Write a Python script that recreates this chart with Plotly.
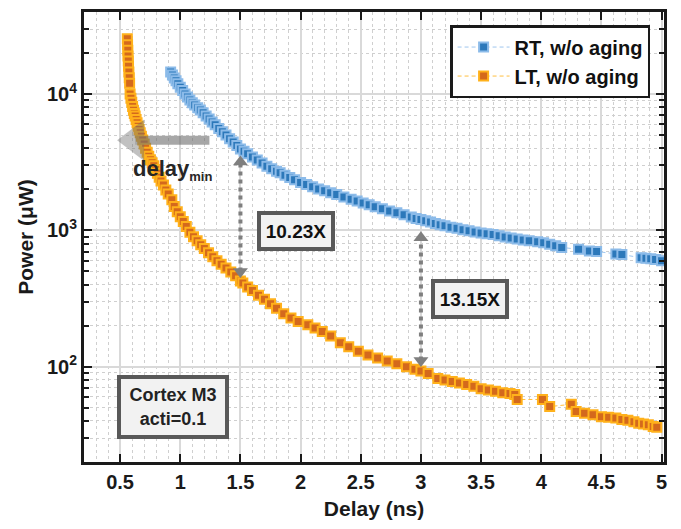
import numpy as np
import plotly.graph_objects as go

# ---------------- data ----------------
rt_delay = [0.920, 0.935, 0.950, 0.965, 0.980, 1.000, 1.020, 1.040, 1.060, 1.080,
            1.100, 1.120, 1.145, 1.167, 1.190, 1.215, 1.240, 1.265, 1.290, 1.320,
            1.350, 1.380, 1.410, 1.440, 1.470, 1.500, 1.530, 1.560, 1.600, 1.640,
            1.680, 1.720, 1.760, 1.800, 1.830, 1.870, 1.910, 1.950, 2.000, 2.050,
            2.100, 2.150, 2.200, 2.250, 2.300, 2.360, 2.420, 2.470, 2.520, 2.570,
            2.620, 2.680, 2.740, 2.800, 2.860, 2.920, 2.960, 3.000, 3.040, 3.080,
            3.120, 3.160, 3.200, 3.250, 3.300, 3.350, 3.400, 3.450, 3.500, 3.550,
            3.600, 3.650, 3.700, 3.750, 3.800, 3.850, 3.900, 3.970, 4.020, 4.070,
            4.120, 4.170, 4.310, 4.400, 4.460, 4.620, 4.670, 4.830, 4.870, 4.910,
            4.950, 5.000]
rt_power = [14500, 13800, 13100, 12500, 11900, 11200, 10600, 10000, 9500, 9050,
            8650, 8300, 7950, 7640, 7300, 6900, 6550, 6250, 5950, 5600,
            5300, 5000, 4700, 4450, 4200, 3950, 3800, 3650, 3460, 3280,
            3120, 2960, 2830, 2720, 2650, 2540, 2440, 2350, 2250, 2170,
            2090, 2010, 1950, 1890, 1830, 1760, 1690, 1640, 1590, 1540,
            1490, 1440, 1390, 1345, 1300, 1255, 1225, 1200, 1175, 1150,
            1125, 1100, 1080, 1055, 1035, 1012, 992, 975, 958, 945,
            932, 912, 895, 878, 864, 851, 840, 825, 810, 790,
            770, 750, 727, 705, 700, 672, 665, 630, 625, 620,
            612, 600]

lt_delay = [0.560, 0.562, 0.564, 0.566, 0.568, 0.570, 0.573, 0.576, 0.579, 0.583,
            0.590, 0.597, 0.604, 0.611, 0.618, 0.625, 0.633, 0.641, 0.650, 0.658,
            0.667, 0.677, 0.688, 0.700, 0.712, 0.725, 0.738, 0.752, 0.766, 0.780,
            0.795, 0.810, 0.825, 0.840, 0.860, 0.880, 0.900, 0.930, 0.950, 0.975,
            1.000, 1.025, 1.050, 1.080, 1.110, 1.140, 1.170, 1.200, 1.235, 1.270,
            1.305, 1.340, 1.380, 1.420, 1.460, 1.500, 1.520, 1.560, 1.600, 1.650,
            1.700, 1.750, 1.800, 1.860, 1.920, 1.980, 2.060, 2.120, 2.180, 2.250,
            2.330, 2.400, 2.480, 2.560, 2.640, 2.720, 2.800, 2.880, 2.950, 3.000,
            3.060, 3.140, 3.200, 3.260, 3.320, 3.380, 3.440, 3.500, 3.560, 3.620,
            3.680, 3.740, 3.780, 3.800, 4.010, 4.070, 4.250, 4.290, 4.360, 4.430,
            4.500, 4.560, 4.620, 4.670, 4.720, 4.770, 4.810, 4.850, 4.890, 4.930,
            4.960]
lt_power = [25500, 23000, 21000, 19000, 17500, 16000, 14500, 13200, 12000, 10000,
            9300, 8700, 8100, 7600, 7200, 6900, 6500, 6150, 5800, 5500,
            5200, 4900, 4600, 4300, 4000, 3750, 3500, 3300, 3130, 2980,
            2800, 2620, 2450, 2300, 2150, 1980, 1850, 1680, 1500, 1370,
            1260, 1160, 1070, 970, 900, 840, 785, 735, 685, 640,
            600, 565, 530, 495, 465, 425, 412, 385, 362, 335,
            312, 290, 268, 245, 228, 215, 203, 192, 181, 168,
            150, 140, 130, 122, 116, 110, 105, 100, 96, 93,
            89, 82, 80, 78, 76, 74, 72, 69, 67.5, 66,
            64.5, 63.5, 62.5, 57.5, 57.5, 51, 53, 47, 45.5, 44.5,
            43, 42.5, 42, 41, 40.5, 39.5, 38.5, 38, 37.5, 36.5,
            36]

x_ticks = [0.5, 1, 1.5, 2, 2.5, 3, 3.5, 4, 4.5, 5]
x_tick_labels = ["0.5", "1", "1.5", "2", "2.5", "3", "3.5", "4", "4.5", "5"]
y_ticks = [100, 1000, 10000]
y_tick_labels = ["10<sup>2</sup>", "10<sup>3</sup>", "10<sup>4</sup>"]

# gap arrows (delay, power at low tip, power at high tip)
gap_delay = [1.5, 3.0]
gap_low = [440, 98]
gap_high = [3600, 1000]
gap_labels = ["10.23X", "13.15X"]
gap_label_x = [1.958, 3.408]
gap_label_y = [983, 316]

# delay_min arrow (tail delay, head-centre delay, power level)
dmin_tail = 1.242
dmin_head = 0.625
dmin_power = 4580

FONT = "Liberation Sans, Arial, sans-serif"
Y_DECADE_PX = 137.0          # pixels per decade of the log axis
HEAD_OFFSET = 10 ** (7.5 / Y_DECADE_PX)   # half arrowhead height in data ratio

fig = go.Figure()

fig.add_trace(go.Scatter(
    x=rt_delay, y=rt_power, mode="lines+markers", name="RT, w/o aging",
    line=dict(color="#9fc6ee", width=1, dash="4px,3px"),
    marker=dict(symbol="square", size=9, color="#2c78ba",
                line=dict(color="#8cbbe9", width=2)),
))
fig.add_trace(go.Scatter(
    x=lt_delay, y=lt_power, mode="lines+markers", name="LT, w/o aging",
    line=dict(color="#ffbf40", width=1, dash="4px,3px"),
    marker=dict(symbol="square", size=9, color="#d4691c",
                line=dict(color="#ffb11b", width=2)),
))

# dotted double arrows
for gx, lo, hi in zip(gap_delay, gap_low, gap_high):
    lo_c = lo * HEAD_OFFSET
    hi_c = hi / HEAD_OFFSET
    fig.add_trace(go.Scatter(
        x=[gx, gx], y=[lo_c, hi_c], mode="lines", showlegend=False,
        hoverinfo="skip", line=dict(color="#7f7f7f", width=4, dash="dot"),
    ))
    fig.add_trace(go.Scatter(
        x=[gx, gx], y=[lo_c, hi_c], mode="markers", showlegend=False,
        hoverinfo="skip",
        marker=dict(symbol=["triangle-down", "triangle-up"], size=13,
                    color="#7f7f7f", line=dict(width=0)),
    ))

# delay_min arrow (semi transparent)
fig.add_trace(go.Scatter(
    x=[dmin_tail, dmin_head], y=[dmin_power, dmin_power], mode="lines+markers",
    showlegend=False, hoverinfo="skip", opacity=0.6,
    line=dict(color="#6e6e6e", width=9),
    marker=dict(symbol=["circle", "triangle-left"], size=[0, 36],
                color="#6e6e6e", line=dict(width=0)),
))

annotations = []
for t, lx, ly in zip(gap_labels, gap_label_x, gap_label_y):
    annotations.append(dict(x=lx, y=np.log10(ly), xref="x", yref="y", text=t,
                            showarrow=False, bgcolor="#f2f2f2",
                            bordercolor="#595959", borderwidth=4, borderpad=4,
                            width=62, height=24,
                            font=dict(family=FONT, size=19, color="#111111",
                                      weight="bold")))

annotations.append(dict(x=0.942, y=np.log10(51), xref="x", yref="y",
                        text="Cortex M3<br>acti=0.1", showarrow=False,
                        bgcolor="#f2f2f2", bordercolor="#595959",
                        borderwidth=4, borderpad=4, width=96, height=48,
                        font=dict(family=FONT, size=18, color="#222222",
                                  weight="bold")))

annotations.append(dict(x=0.933, y=np.log10(2790), xref="x", yref="y",
                        text="delay<sub><span style='font-size:13px'>min</span></sub>",
                        showarrow=False,
                        font=dict(family=FONT, size=22, color="#262626",
                                  weight="bold")))

fig.update_layout(
    width=681, height=529, autosize=False,
    margin=dict(l=84, r=17, t=9, b=67),
    paper_bgcolor="white", plot_bgcolor="white",
    font=dict(family=FONT, size=20, color="#1a1a1a", weight="bold"),
    showlegend=True,
    legend=dict(x=0.976, y=0.971, xanchor="right", yanchor="top",
                bgcolor="white", bordercolor="#1a1a1a", borderwidth=2.5,
                font=dict(family=FONT, size=20, color="#111111", weight="bold"),
                itemwidth=52, tracegroupgap=0),
    annotations=annotations,
)

fig.update_xaxes(
    range=[0.2, 5.02], tickvals=x_ticks, ticktext=x_tick_labels,
    ticks="inside", ticklen=8, tickwidth=2, tickcolor="#1a1a1a",
    showline=True, linewidth=3, linecolor="#1a1a1a", mirror="ticks",
    showgrid=True, gridcolor="#d9d9d9", gridwidth=2, zeroline=False,
    minor=dict(dtick=0.1, showgrid=True, gridcolor="#cfcfcf", griddash="dot",
               gridwidth=1, ticks=""),
    tickfont=dict(family=FONT, size=20, color="#1a1a1a", weight="bold"),
    title=dict(text="Delay (ns)", standoff=10,
               font=dict(family=FONT, size=21, color="#1a1a1a", weight="bold")),
)
fig.update_yaxes(
    type="log", range=[np.log10(20), np.log10(40000)],
    tickvals=y_ticks, ticktext=y_tick_labels,
    ticks="inside", ticklen=8, tickwidth=2, tickcolor="#1a1a1a",
    showline=True, linewidth=3, linecolor="#1a1a1a", mirror="ticks",
    showgrid=True, gridcolor="#d9d9d9", gridwidth=2, zeroline=False,
    minor=dict(dtick="D1", showgrid=True, gridcolor="#cfcfcf", griddash="dot",
               gridwidth=1, ticks="inside", ticklen=5, tickwidth=2,
               tickcolor="#1a1a1a"),
    tickfont=dict(family=FONT, size=20, color="#1a1a1a", weight="bold"),
    title=dict(text="Power (μW)", standoff=8,
               font=dict(family=FONT, size=21, color="#1a1a1a", weight="bold")),
)

fig.write_html("out.html")
